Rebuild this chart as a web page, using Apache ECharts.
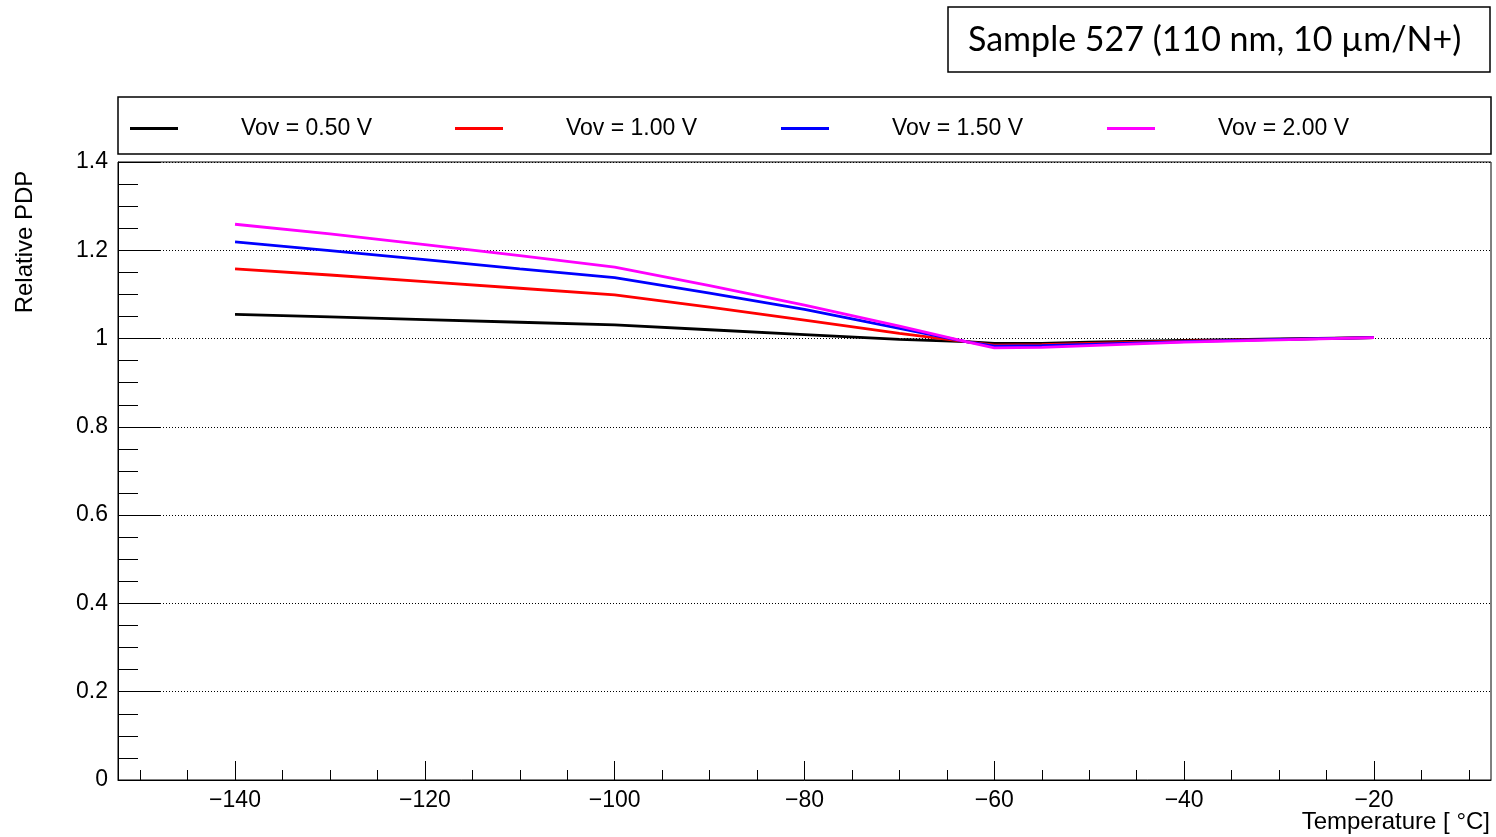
<!DOCTYPE html>
<html>
<head>
<meta charset="utf-8">
<script src="https://cdn.jsdelivr.net/npm/echarts@6/dist/echarts.min.js"></script>
<style>
html,body{margin:0;padding:0;background:#fff;}
#chart{width:1496px;height:837px;}
</style>
</head>
<body>
<div id="chart"></div>
<script>
// ---- data ----
const temps = [-140, -130, -120, -110, -100, -90, -80, -70, -63, -60, -55, -50, -40, -30, -20];
const seriesNames = ['Vov = 0.50 V', 'Vov = 1.00 V', 'Vov = 1.50 V', 'Vov = 2.00 V'];
const vov050 = [1.055, 1.049, 1.043, 1.037, 1.031, 1.020, 1.009, 0.998, 0.993, 0.989, 0.989, 0.992, 0.996, 0.999, 1.002];
const vov100 = [1.158, 1.144, 1.129, 1.114, 1.099, 1.071, 1.042, 1.012, 0.993, 0.985, 0.986, 0.989, 0.994, 0.998, 1.002];
const vov150 = [1.219, 1.199, 1.179, 1.158, 1.138, 1.103, 1.066, 1.023, 0.993, 0.983, 0.984, 0.987, 0.993, 0.998, 1.002];
const vov200 = [1.259, 1.237, 1.213, 1.188, 1.162, 1.120, 1.076, 1.028, 0.993, 0.979, 0.980, 0.984, 0.992, 0.997, 1.002];
const xMajorTicks = [-140, -120, -100, -80, -60, -40, -20];
const xMinorTicks = [-150, -145, -135, -130, -125, -115, -110, -105, -95, -90, -85, -75, -70, -65, -55, -50, -45, -35, -30, -25, -15, -10];
const titleText = 'Sample 527 (110 nm, 10 µm/N+)';
const xTitle = 'Temperature [ °C]';
const yTitle = 'Relative PDP';

const colors = ['#000000', '#ff0000', '#0000ff', '#ff00ff'];
const allValues = [vov050, vov100, vov150, vov200];

const chart = echarts.init(document.getElementById('chart'), null, {renderer: 'canvas'});
const FONT = 'Liberation Sans';
const XMIN = -152.33, XMAX = -7.67;

const series = allValues.map((vals, i) => ({
  name: seriesNames[i],
  type: 'line',
  xAxisIndex: 0,
  yAxisIndex: 0,
  data: temps.map((t, j) => [t, vals[j]]),
  showSymbol: false,
  symbol: 'none',
  lineStyle: {color: colors[i], width: 2.8},
  itemStyle: {color: colors[i]},
  z: 2 + i
}));

const legendLeft = [125, 450, 776, 1102];
const legends = seriesNames.map((n, i) => ({
  data: [n],
  left: legendLeft[i],
  top: 112,
  icon: 'rect',
  itemWidth: 48,
  itemHeight: 3,
  selectedMode: false,
  textStyle: {fontFamily: FONT, fontSize: 23, color: '#000', padding: [0, 0, 0, 58]}
}));

const option = {
  animation: false,
  backgroundColor: '#fff',
  title: {
    text: titleText,
    left: 963,
    top: 18,
    textStyle: {fontFamily: 'Lato', fontSize: 34, fontWeight: 'normal', color: '#000'}
  },
  legend: legends,
  grid: {
    left: 118, right: 5, top: 162, bottom: 57,
    show: true, borderColor: '#000', borderWidth: 1, backgroundColor: 'transparent'
  },
  xAxis: [{
    type: 'value', min: XMIN, max: XMAX,
    axisLine: {show: true, onZero: false, lineStyle: {color: '#000', width: 1}},
    axisTick: {show: true, inside: true, length: 19, customValues: xMajorTicks, lineStyle: {color: '#000', width: 1}},
    axisLabel: {show: true, customValues: xMajorTicks, margin: 9, fontFamily: FONT, fontSize: 23, color: '#000',
      formatter: v => String(v).replace('-', '\u2212')},
    splitLine: {show: false}
  }, {
    type: 'value', min: XMIN, max: XMAX, position: 'bottom',
    axisLine: {show: false},
    axisTick: {show: true, inside: true, length: 10, customValues: xMinorTicks, lineStyle: {color: '#000', width: 1}},
    axisLabel: {show: false},
    splitLine: {show: false}
  }],
  yAxis: {
    type: 'value', min: 0, max: 1.4, interval: 0.2,
    axisLine: {show: true, onZero: false, lineStyle: {color: '#000', width: 1}},
    axisTick: {show: true, inside: true, length: 42, lineStyle: {color: '#000', width: 1}},
    minorTick: {show: true, splitNumber: 4, length: 20, lineStyle: {color: '#000', width: 1}},
    axisLabel: {margin: 10, fontFamily: FONT, fontSize: 23, color: '#000',
      formatter: v => String(Math.round(v * 10) / 10)},
    splitLine: {show: true, lineStyle: {color: '#000', width: 1, type: [1, 2]}},
    minorSplitLine: {show: false}
  },
  graphic: [
    {type: 'rect', shape: {x: 948, y: 7, width: 542, height: 65}, style: {fill: 'none', stroke: '#000', lineWidth: 1.5}, silent: true},
    {type: 'rect', shape: {x: 118, y: 97, width: 1373, height: 57}, style: {fill: 'none', stroke: '#000', lineWidth: 1.5}, silent: true},
    {type: 'text', x: 25, y: 242, rotation: Math.PI / 2,
      style: {text: yTitle, fontFamily: FONT, fontSize: 24, fill: '#000', textAlign: 'center', textVerticalAlign: 'middle'}},
    {type: 'text', x: 1490, y: 822,
      style: {text: xTitle, fontFamily: FONT, fontSize: 24, fill: '#000', textAlign: 'right', textVerticalAlign: 'middle'}}
  ],
  series: series
};
chart.setOption(option);
</script>
</body>
</html>
